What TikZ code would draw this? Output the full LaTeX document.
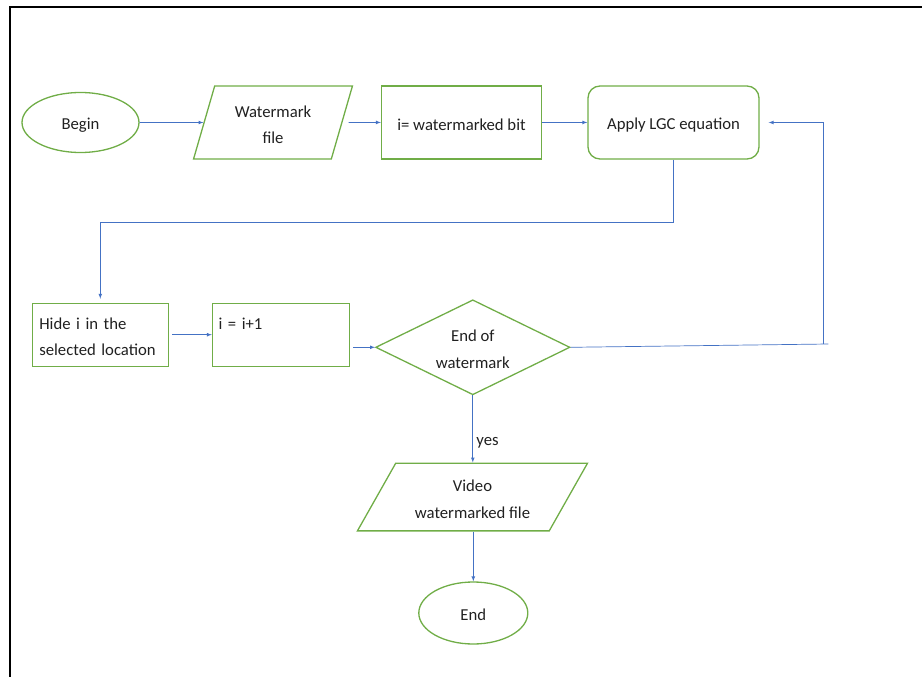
\documentclass[tikz,border=0pt]{standalone}
\usepackage{fontspec}
\setmainfont{Carlito}
\usetikzlibrary{shapes.geometric}

\definecolor{boxgreen}{HTML}{70AD47}
\definecolor{linkblue}{HTML}{4472C4}
\definecolor{textgrey}{HTML}{202020}

\newcommand{\capstrut}{\rule{0pt}{16pt}}

\begin{document}
\begin{tikzpicture}[
    x=1pt, y=-1pt,
    font=\fontsize{16.7}{26.5}\selectfont,
    every node/.style={text=textgrey, execute at begin node=\capstrut},
    outline/.style={draw=boxgreen, line width=1.3pt},
    terminal/.style={outline, ellipse, inner sep=0pt},
    io/.style={outline, trapezium, trapezium stretches=true, inner sep=0pt, align=center},
    process/.style={outline, rectangle},
    thinbox/.style={process, line width=0.9pt, minimum height=63, align=left},
    link/.style={draw=linkblue, line width=0.7pt},
    flow/.style={link, -latex},
]
\useasboundingbox (0,0) rectangle (922,677);

% frame
\draw [line width=2.4pt] (10,677) -- (10,7) -- (922,7);


% top row
\node [terminal, minimum width=117, minimum height=60] (begin) at (80.5,122.5) {Begin};
\node [io, trapezium left angle=72, trapezium right angle=108,
       minimum width=159, minimum height=73] (wmfile) at (273,122.5) {\capstrut Watermark\\file};
\node [process, minimum width=160, minimum height=73] (bit) at (461.5,122.4) {i= watermarked bit};
\node [process, rounded corners=12pt, minimum width=171, minimum height=73] (apply) at (673.5,122.5) {Apply LGC equation};


% middle row
\node [thinbox, minimum width=136, inner xsep=6.5pt, text width=122] (hide) at (100.3,334.7) {Hide i in the\\selected location};
\node [thinbox, minimum width=137.4, inner xsep=5.7pt, text width=125] (inc) at (281,334.7) {i = i+1\\~};
\node [outline, diamond, aspect=2, inner sep=0pt, minimum width=194.3, minimum height=95,
       align=center] (wmend) at (472.8,347.3) {\capstrut End of\\watermark};


% bottom
\node [io, trapezium left angle=56, trapezium right angle=124,
       minimum width=230.4, minimum height=67.7] (video) at (472.5,497) {\capstrut Video\\watermarked file};
\node [terminal, minimum width=109, minimum height=62] (stop) at (473.3,613) {End};


% links
\coordinate (turn) at (673.5,222.3);
\coordinate (loopbot) at (828.3,344);
\coordinate (looptop) at (823.3,122.5);

\draw [flow] (begin.east) -- (wmfile.west);
\draw [flow, shorten <=6pt] (wmfile.east) -- (bit.west);
\draw [flow] (bit) -- (apply);
\draw [flow, shorten >=4pt] (apply.south) -- (turn) -| (hide.north);
\draw [flow, shorten <=3.5pt] (hide) -- (inc);
\draw [flow, shorten <=3pt] (inc.east |- wmend.west) -- (wmend.west);
\draw [flow] (wmend.south) -- node[right, pos=0.65]{yes} (wmend.south |- video.north);
\draw [flow] (video.south -| stop.north) -- (stop.north);

\draw [link] (wmend.east) -- (loopbot);
\draw [flow, shorten >=9pt] (looptop |- loopbot) -- (looptop) -- (apply.east);

\end{tikzpicture}
\end{document}
